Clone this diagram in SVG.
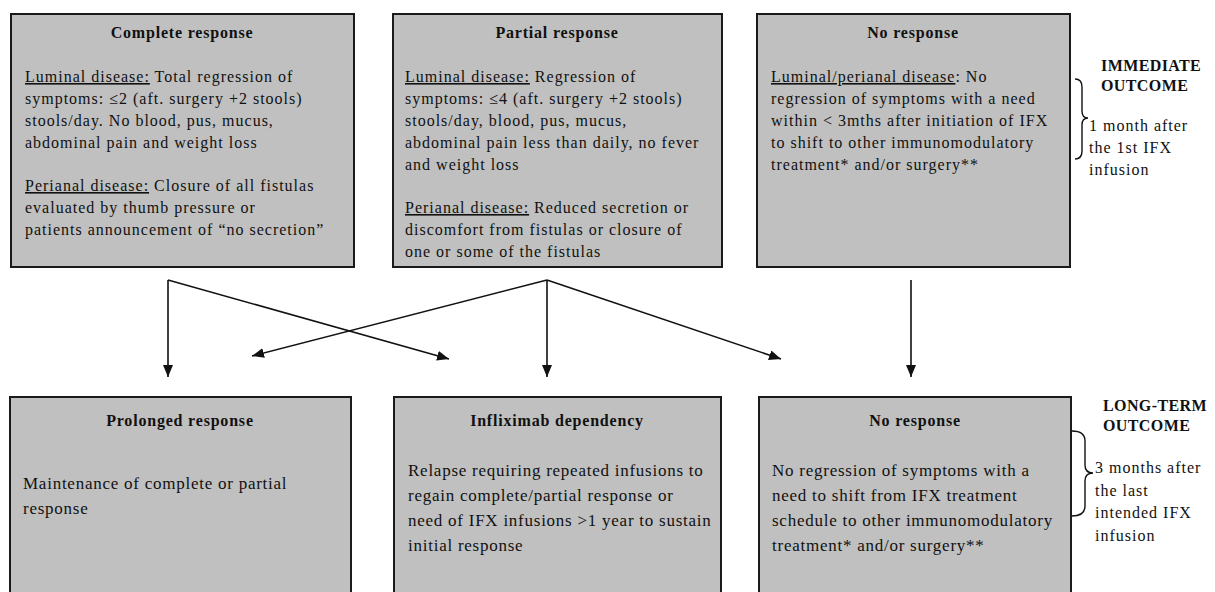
<svg xmlns="http://www.w3.org/2000/svg" width="1215" height="592" viewBox="0 0 1215 592">
<style>
.box{fill:#c0c0c0;stroke:#1a1a1a;stroke-width:2}
text{font-family:"Liberation Serif","Times New Roman",serif;fill:#111}
.t{font-size:16px;font-weight:bold;text-anchor:middle;letter-spacing:0.8px}
.b{font-size:16px;letter-spacing:1px}
.l{font-size:17px;letter-spacing:0.75px}
.u{text-decoration:underline}
.h{font-size:16px;font-weight:bold;letter-spacing:0.4px}
.c{fill:none;stroke:#111;stroke-width:1.6}
.br{fill:none;stroke:#111;stroke-width:1.4}
</style>
<defs>
<marker id="ah" viewBox="0 0 12 10" refX="12" refY="5" markerWidth="12" markerHeight="10" markerUnits="userSpaceOnUse" orient="auto">
<path d="M0,0 L12,5 L0,10 z" fill="#111"/>
</marker>
</defs>

<g id="complete-response">
<rect class="box" x="11" y="14" width="343" height="253"/>
<text class="t" x="182" y="38">Complete response</text>
<text class="b" x="25" y="82"><tspan class="u">Luminal disease:</tspan> Total regression of</text>
<text class="b" x="25" y="104">symptoms: ≤2 (aft. surgery +2 stools)</text>
<text class="b" x="25" y="126">stools/day. No blood, pus, mucus,</text>
<text class="b" x="25" y="148">abdominal pain and weight loss</text>
<text class="b" x="25" y="191"><tspan class="u">Perianal disease:</tspan> Closure of all fistulas</text>
<text class="b" x="25" y="213">evaluated by thumb pressure or</text>
<text class="b" x="25" y="235">patients announcement of “no secretion”</text>
</g>

<g id="partial-response">
<rect class="box" x="393" y="14" width="329" height="253"/>
<text class="t" x="557" y="38">Partial response</text>
<text class="b" x="405" y="82"><tspan class="u">Luminal disease:</tspan> Regression of</text>
<text class="b" x="405" y="104">symptoms: ≤4 (aft. surgery +2 stools)</text>
<text class="b" x="405" y="126">stools/day, blood, pus, mucus,</text>
<text class="b" x="405" y="148">abdominal pain less than daily, no fever</text>
<text class="b" x="405" y="170">and weight loss</text>
<text class="b" x="405" y="213"><tspan class="u">Perianal disease:</tspan> Reduced secretion or</text>
<text class="b" x="405" y="235">discomfort from fistulas or closure of</text>
<text class="b" x="405" y="257">one or some of the fistulas</text>
</g>

<g id="no-response-immediate">
<rect class="box" x="757" y="14" width="313" height="253"/>
<text class="t" x="913" y="38">No response</text>
<text class="b" x="771" y="82"><tspan class="u">Luminal/perianal disease</tspan>: No</text>
<text class="b" x="771" y="104">regression of symptoms with a need</text>
<text class="b" x="771" y="126">within &lt; 3mths after initiation of IFX</text>
<text class="b" x="771" y="148">to shift to other immunomodulatory</text>
<text class="b" x="771" y="170">treatment* and/or surgery**</text>
</g>

<g id="immediate-outcome">
<path class="br" d="M1075,79 Q1082,79 1082,87 L1082,111 Q1082,118 1088,118 Q1082,118 1082,125 L1082,151 Q1082,159 1075,159"/>
<text class="h" x="1101" y="71">IMMEDIATE</text>
<text class="h" x="1101" y="91">OUTCOME</text>
<text class="b" x="1089" y="131">1 month after</text>
<text class="b" x="1089" y="153">the 1st IFX</text>
<text class="b" x="1089" y="175">infusion</text>
</g>

<g id="prolonged-response">
<rect class="box" x="10" y="397" width="341" height="220"/>
<text class="t" x="180" y="426">Prolonged response</text>
<text class="l" x="23" y="489">Maintenance of complete or partial</text>
<text class="l" x="23" y="514">response</text>
</g>

<g id="infliximab-dependency">
<rect class="box" x="394" y="397" width="327" height="220"/>
<text class="t" x="557" y="426">Infliximab dependency</text>
<text class="l" x="408" y="476">Relapse requiring repeated infusions to</text>
<text class="l" x="408" y="501">regain complete/partial response or</text>
<text class="l" x="408" y="526">need of IFX infusions &gt;1 year to sustain</text>
<text class="l" x="408" y="551">initial response</text>
</g>

<g id="no-response-longterm">
<rect class="box" x="759" y="397" width="312" height="220"/>
<text class="t" x="915" y="426">No response</text>
<text class="l" x="772" y="476">No regression of symptoms with a</text>
<text class="l" x="772" y="501">need to shift from IFX treatment</text>
<text class="l" x="772" y="526">schedule to other immunomodulatory</text>
<text class="l" x="772" y="551">treatment* and/or surgery**</text>
</g>

<g id="long-term-outcome">
<path class="br" d="M1072,431 Q1085,431 1085,441 L1085,465 Q1085,473 1093,473 Q1085,473 1085,481 L1085,506 Q1085,516 1072,516"/>
<text class="h" x="1103" y="411">LONG-TERM</text>
<text class="h" x="1103" y="431">OUTCOME</text>
<text class="b" x="1095" y="473">3 months after</text>
<text class="b" x="1095" y="496">the last</text>
<text class="b" x="1095" y="518">intended IFX</text>
<text class="b" x="1095" y="541">infusion</text>
</g>

<g id="connectors">
<line class="c" x1="168" y1="280" x2="168" y2="377" marker-end="url(#ah)"/>
<line class="c" x1="168" y1="280" x2="449" y2="359" marker-end="url(#ah)"/>
<line class="c" x1="547" y1="280" x2="252" y2="356" marker-end="url(#ah)"/>
<line class="c" x1="547" y1="280" x2="547" y2="377" marker-end="url(#ah)"/>
<line class="c" x1="547" y1="280" x2="781" y2="359" marker-end="url(#ah)"/>
<line class="c" x1="911" y1="280" x2="911" y2="377" marker-end="url(#ah)"/>
</g>
</svg>
